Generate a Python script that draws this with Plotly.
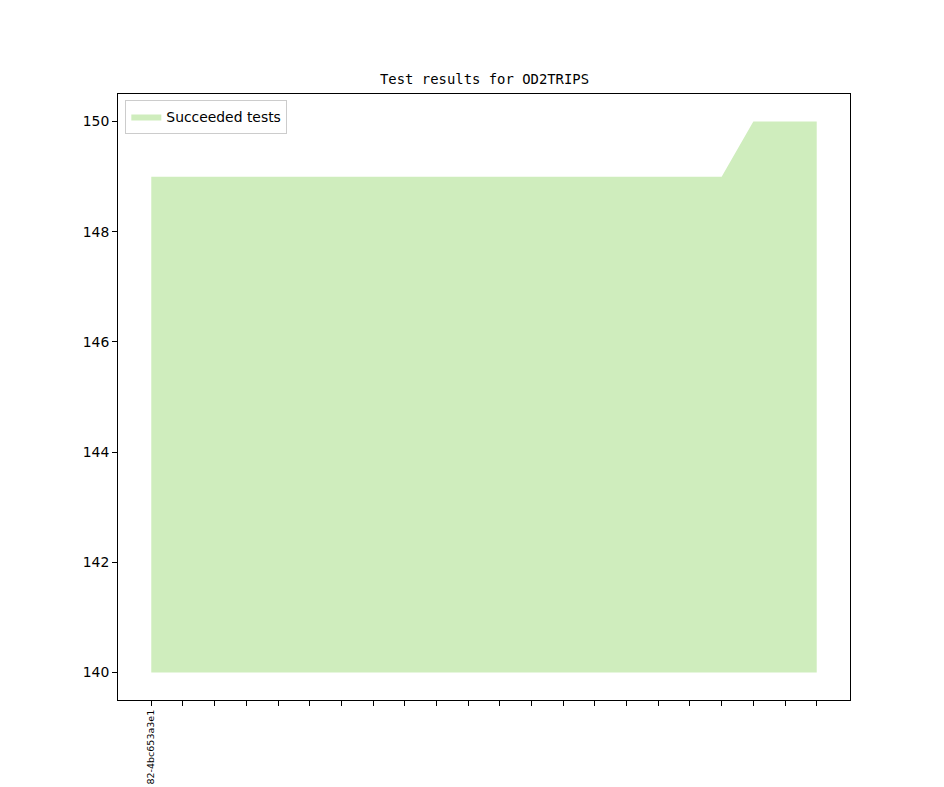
import plotly.graph_objects as go

# one entry per build, only the first commit label was printed
commits = ["82-4bc653a3e1"] + [""] * 21
succeeded = [149] * 19 + [150] * 3
baseline = [140] * len(succeeded)

xs = list(range(len(commits)))
green = "rgb(207,237,189)"

fig = go.Figure()
fig.add_trace(go.Scatter(x=xs, y=baseline, mode="lines", line=dict(width=0),
                         showlegend=False, hoverinfo="skip"))
fig.add_trace(go.Scatter(x=xs, y=succeeded, mode="lines", line=dict(width=0, color=green),
                         fill="tonexty", fillcolor=green, name="Succeeded tests"))

fig.update_layout(
    width=944, height=787,
    margin=dict(l=110, r=102, t=86, b=95),
    plot_bgcolor="white", paper_bgcolor="white",
    font=dict(family="DejaVu Sans", size=13.9, color="black"),
    showlegend=True,
    legend=dict(x=0.01, y=0.99, xanchor="left", yanchor="top",
                bgcolor="rgba(255,255,255,0.8)", bordercolor="#cccccc", borderwidth=1,
                font=dict(size=13.9), tracegroupgap=0),
    annotations=[dict(text="Test results for OD2TRIPS", xref="paper", yref="paper",
                      x=0.5, y=1, xanchor="center", yanchor="bottom", yshift=5,
                      showarrow=False, font=dict(family="DejaVu Sans Mono", size=13.9))],
)
fig.update_xaxes(range=[-1.05, len(xs) - 1 + 1.05], tickmode="array", tickvals=xs,
                 ticktext=commits, tickangle=-90, tickfont=dict(size=9.5),
                 ticks="outside", ticklen=5, tickcolor="black", automargin=False,
                 showline=True, linecolor="black", mirror=True, showgrid=False, zeroline=False)
fig.update_yaxes(range=[139.5, 150.5], tickvals=[140, 142, 144, 146, 148, 150],
                 ticks="outside", ticklen=5, tickcolor="black", automargin=False,
                 showline=True, linecolor="black", mirror=True, showgrid=False, zeroline=False)

fig.write_html("out.html")
